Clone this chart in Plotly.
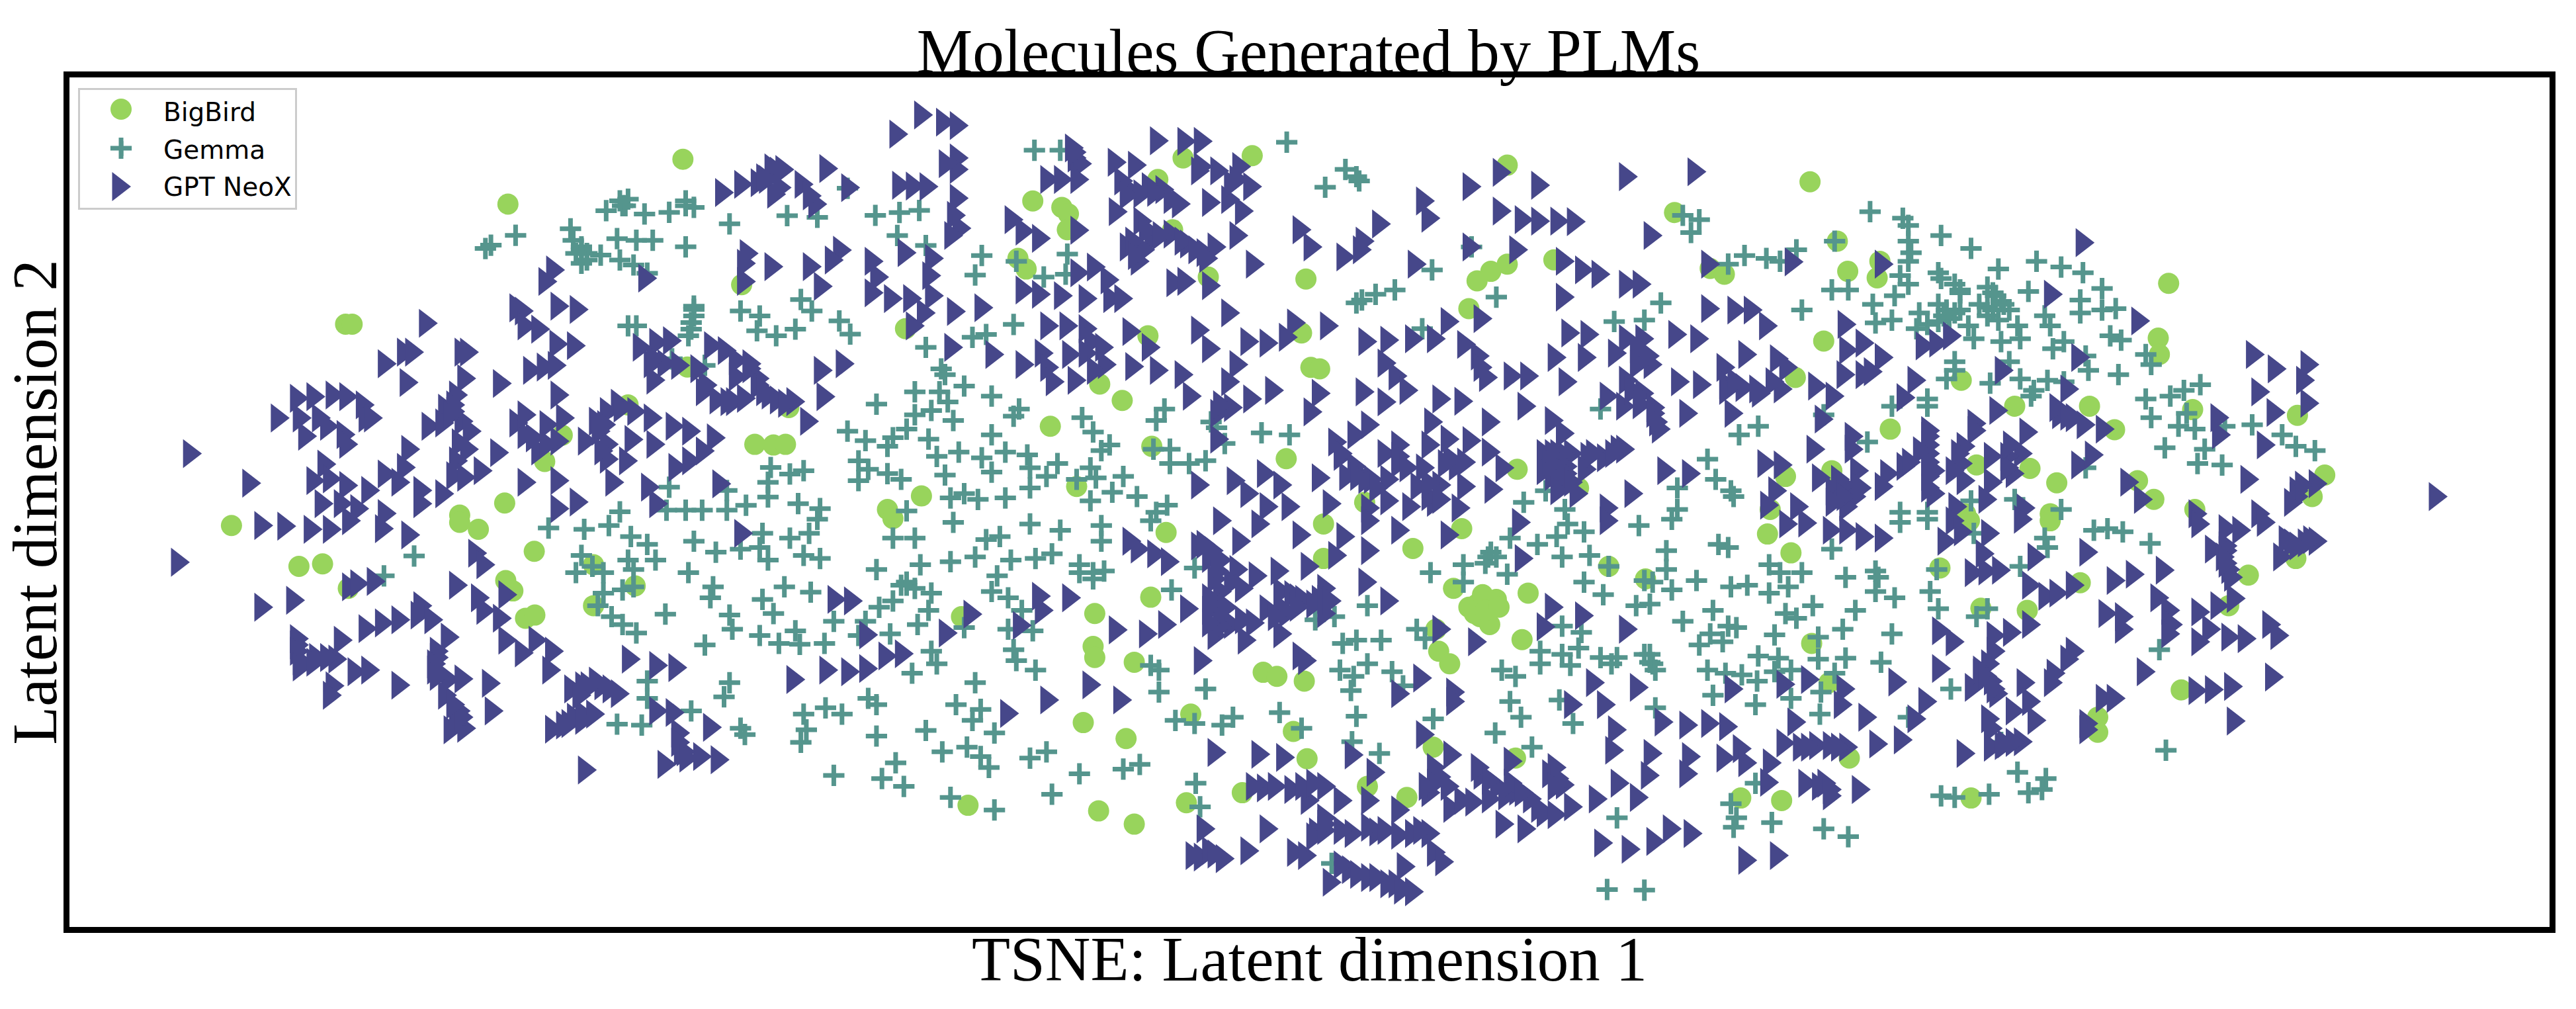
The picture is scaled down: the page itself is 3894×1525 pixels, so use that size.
import plotly.graph_objects as go

# Each panel: (left, top, x scale, y scale) of the reading grid.
panel_grid = {
    "nw": (0, 0, 1.206, 2.01),
    "n": (1300, 100, 1.206, 2.306),
    "ne": (2600, 100, 1.212, 2.306),
    "sw": (0, 780, 1.206, 2.105),
    "s": (1300, 780, 1.206, 2.105),
    "se": (2600, 780, 1.212, 2.105),
}

bigbird_nw = [(1245,484),(926,620),(630,985),(642,985),(1352,865),(1376,1350),(1410,1352),(1432,1350),(1253,1115),(1438,1238),(1025,1322),(1145,1230),(993,1402),(920,1528),(838,1565)]
gpt_nw = [(1320,585),(1355,560),(1385,555),(1410,510),(1430,515),(1415,590),(1400,545),(1465,560),(1490,620),(1510,512),(1550,570),
(1365,770),(1535,760),(1410,810),(1360,800),(1360,855),(1480,810),(1520,790),(1500,870),(1180,845),(1012,820),(998,855),
(945,935),(955,945),(960,990),(985,1000),(1020,930),(1055,940),(780,982),(1018,1045),(1050,1050),
(705,1105),(740,1070),(755,1070),(845,1070),(855,1070),(970,1125),(995,1115),(1015,1110),(745,1162),(850,1150),(915,1165),(835,1200),(815,1240),(1020,1200),
(1170,1055),(1200,1040),(1225,1035),(1190,1105),(1215,1105),(1240,1110),(1275,1120),(1195,1155),(1300,1050),(1325,1065),(1345,1095),(1370,1105),(1345,1145),(1385,1150),(1405,1200),(1500,1125),(1540,1105),(1505,1205),(1285,1190),(1310,1215),(1340,1220),(1360,1210),(1420,1215),(1450,1220),(1475,1280),
(545,1210),(575,1205),(610,1200),(635,1205),(665,1230),(510,1270),(550,1270),(585,1270),(600,1295),(630,1320),(670,1270),(680,1270),(560,1325),(635,1350),(350,1378),(458,1468),
(785,1295),(810,1285),(830,1250),(845,1280),(860,1310),(840,1345),(855,1365),(835,1400),(748,1365),(910,1375),
(945,1285),(960,1320),(1000,1290),(1030,1270),(1090,1280),(1130,1225),(1160,1250),(1190,1270),(1230,1295),(1260,1310),(1305,1330),(1095,1310),(1070,1340),(1020,1340),(985,1370),(1110,1350),(1155,1335),(1195,1350),(1110,1395),(1145,1400),(1285,1370),(1235,1420),(1260,1400),(1120,1465),
(595,1410),(575,1460),(605,1455),(635,1475),(675,1490),(705,1440),(740,1420),(730,1465),(770,1490),(810,1500),(830,1445),(850,1450),(880,1430),(960,1465),(1020,1460),(1055,1525),(1185,1480),(1200,1530),(1315,1470),(590,1530),(625,1530),(655,1545),(770,1530),(705,1560),(1020,1545),
(1370,1120),(1385,1170),(1395,1190),(1435,1225),(1290,1170),(1330,1220),(960,1260),(975,1330),(1000,1350),(1110,1250),(1135,1240),(1105,1290),(1100,1370),(830,1230),(825,1260),(1420,520),(1395,540),(1425,570),(1480,595),(1195,1090)]
gemma_nw = [(895,745),(885,755),(940,715),(1040,695),(1045,730),(1060,750),(1070,770),(1095,775),(1060,800),(1130,790),(1155,805),(1180,830),(1125,725),(1160,730),(1190,730),(1250,750),(1105,640),(1135,625),(1145,605),(1175,650),(1220,645),(1250,610),(1265,630),(1330,680),(1435,655),(1490,660),(1545,572),
(1145,990),(1160,990),(1265,930),(1265,960),(1260,1000),(1255,1020),(1350,945),(1385,960),(1380,1005),(1415,1020),(1450,1000),(1460,910),(1480,945),(1530,975),(1550,1015),
(1285,1110),(1225,1090),(1545,1310),(1405,1420),(1440,1440),(1465,1430),(1400,1465),(1400,1510),(1455,1530),(1495,1545),(1360,1535),(1325,1550),(1280,1550),(1250,1550),(1215,1550),(1130,1555),(1565,1400),(1565,1460),(1220,1480),(1325,1490),
(1060,760),(1070,790),(1050,770),(1265,940),(1260,980),(1140,625),(1130,610),(1250,625)]

bigbird_n = [(589,320),(715,312),(543,395),(315,470),(368,492),(380,515),(378,570),(288,670),(303,707),(635,735),(813,742),(1180,345),(1265,675),(1485,510),(1180,690),(1150,715),(1125,748),(1110,845),(83,915),(525,940),(805,930),(822,1050),(838,1055),(437,1108),(478,1165),(347,1255),(777,1368),(532,1325),(1198,1405),(1310,1470),(920,1520),(395,1465),(112,1498),(50,1545),(570,570),(1550,705)]
gpt_n = [(115,170),(155,195),(180,207),(70,237),(180,320),(180,360),(180,460),(175,520),(185,565),(75,415),(100,418),(125,420),(390,285),(395,320),(405,340),(345,395),(370,395),(400,395),(468,335),(505,345),(545,260),(595,262),(625,262),(620,365),(655,365),(695,350),(690,395),(715,420),(490,425),(515,445),(555,430),(570,465),(640,475),(675,465),(700,505),(470,507),(515,540),(535,605),(570,585),(600,620),(630,650),(490,630),(520,640),(510,680),(690,590),(650,630),(720,690),
(280,535),(300,575),(330,600),(400,572),(85,650),(135,670),(25,680),(35,735),(130,730),(25,790),(60,810),(95,810),(135,800),(175,855),(225,842),(120,860),(100,905),(300,780),(330,795),(370,800),(415,810),(460,810),(480,810),(430,700),(455,745),(400,720),(575,755),(595,750),(640,765),
(805,570),(825,630),(885,665),(915,640),(920,610),(950,550),(1030,470),(1040,530),(1115,420),(1170,370),(1240,415),(1400,385),(1525,368),(1170,505),(1210,535),(1240,540),(1275,540),(1305,542),(1445,590),(1115,630),(1200,640),(1015,690),(1285,680),(1320,710),(1350,725),(1400,760),(1425,760),(1285,805),(1550,690),(1550,845),
(675,860),(620,920),(495,925),(345,905),(380,905),(415,915),(425,960),(445,980),(170,980),(245,1005),(300,1040),(335,1000),(345,1050),(385,1005),(415,1000),(450,1040),(430,1060),(355,1100),(395,1095),(500,1047),(545,1060),(590,1075),(530,980),(640,985),(710,960),(745,965),(780,945),(795,895),(855,905),(690,1040),(675,1100),(605,1150),(655,1210),(680,1190),(715,1160),(755,1130),(840,1140),(825,1205),(925,960),(965,955),(1010,950),(1050,950),(1075,890),(1105,970),(1130,1010),(1135,1050),(1145,1085),(1190,1080),(1220,1080),(960,1035),(980,1080),(1000,1130),(920,1135),(960,1170),(1060,1160),(1100,1168),(1045,1240),(1150,1240),(1215,1185),(1135,880),(1270,1015),(1325,1015),(1290,1100),(1285,1280),(1265,1235),(1295,930),(1330,935),(1380,1000),(1430,950),(1490,935),(1530,950),(1430,1010),(1445,1040),(1400,1095),(1430,1140),(1495,1100),(1535,1110),(1365,1150),(1395,1185),(1450,1190),(1510,1210),(1460,1265),(1395,1335),
(930,1250),(905,1285),(870,1310),(985,1320),(1040,1320),(1075,1300),(1115,1305),(1150,1345),(880,1360),(905,1395),(985,1385),(1030,1400),(1070,1385),(1090,1395),(840,1435),(890,1430),(935,1440),(965,1440),(1020,1465),(1060,1460),(1105,1465),(1155,1475),(1175,1400),(740,1420),(770,1460),(685,1445),(620,1460),(710,1490),(745,1535),(785,1535),(860,1525),(965,1515),(1005,1535),(1050,1520),(1095,1540),(655,1300),(660,1180),
(1250,1350),(1275,1350),(1300,1350),(1330,1360),(1360,1365),(1385,1335),(1275,1400),(1325,1405),(1250,1410),(1280,1450),(1310,1490),(1410,1490),(1470,1410),(1515,1420),(1365,1540),(930,1540),
(160,340),(170,590),(395,300),(480,400),(490,450),(530,420),(540,440),(585,480),(525,570),(550,590),(590,610),(615,640),(635,670),(500,610),(505,660),(625,350),(680,410),(1265,1350),(1290,1360),(1260,1380),(1290,1395),(1265,1430),(1290,1420),(1300,1450),(1340,1350),(1375,1350),(1275,1480),(1105,1380),(1080,1370),(1040,1500),(1060,1510),(1040,1455),(960,1350),(985,1360),(1000,1400),(925,1440),(910,1430),(945,1470),(880,1350),(1400,950),(1420,985),(1420,1040),(1440,1010),(1410,1130),(1425,1180),(1450,1210),(1455,1240)]
gemma_n = [(778,265),(318,293),(365,293),(885,360),(905,385),(910,400),(848,422),(1530,535),(1515,580),(1500,520),(1115,630),(1043,710),(975,780),(940,795),(915,815),(905,825),(1160,805),(1460,825),(1430,885),(1375,890),(1025,915),(28,520),(72,510),(108,503),(68,590),(120,625),(222,660),(285,680),(378,655),(375,725),(335,735),(210,728),(280,900),(230,935),(205,945),(120,980),(148,1055),(155,1075),(190,1115),(100,1135),(145,1135),(160,1170),(240,1150),(30,1178),(130,1200),(100,1215),(170,1235),(290,1195),(280,1220),(405,1225),(555,1195),(540,1235),(640,1240),(650,1260),(665,1315),(732,1278),(783,1285),(1350,1195),(240,1285),(425,1275),(60,1295),(10,1305),(50,1325),(85,1265),(125,1300),(455,1320),(440,1340),(535,1335),(565,1335),(180,1345),(140,1360),(222,1365),(265,1345),(305,1355),(360,1385),(420,1400),(565,1385),(600,1385),(630,1375),(240,1415),(155,1425),(310,1400),(340,1430),(395,1440),(430,1435),(480,1430),(15,1405),(50,1420),(75,1440),(310,1470),(85,1550),(165,1505),(215,1510),(265,1505),(190,1490),(460,1485),(505,1500),(420,1515),(560,1530),(1210,1520),(1250,1480),(1490,1470),(1545,1370),(1560,1440),(1490,1545),(1285,1545),(540,1555)]

bigbird_ne = [(165,403),(215,610),(293,680),(234,715),(288,738),(8,725),(822,757),(190,958),(803,948),(805,1005),(138,1085),(442,1095),(540,1185),(677,1185),(866,1197),(1058,1217),(723,1267),(312,1265),(120,1430),(205,1410),(470,1390),(568,1402),(617,1452),(765,1445),(795,1510),(1108,1425),(1085,1500),(870,1545),(450,1560),(92,1545),(605,1560)]
gpt_ne = [(668,615),(135,682),(300,690),(610,795),(770,888),(30,850),(60,850),(88,905),(232,900),(265,965),(235,990),(300,1015),(375,975),(400,965),(425,940),(50,1005),(108,1020),(125,1050),(660,1015),(520,1060),(980,1005),(1020,1055),(1080,1040),(1072,1095),(990,1135),(1080,1175),(1018,1207),(915,1225),(918,1285),(1000,1320),
(230,1075),(265,1075),(280,1065),(360,1095),(178,1115),(210,1150),(340,1155),(640,1125),(10,1050),(15,1110),(45,1120),(70,1125),(115,1125),(25,1210),(190,1230),(510,1200),(470,1245),(470,1270),(385,1270),(385,1320),(565,1275),(625,1215),(650,1225),(670,1250),(705,1265),(450,1325),(555,1350),(500,1360),(175,1335),(245,1290),(245,1335),(85,1385),(115,1390),(185,1435),(255,1410),(340,1395),(385,1350),(395,1410),(445,1385),(310,1420),(300,1465),(450,1445),(395,1490),(540,1420),(500,1450),(105,1480),(90,1530),(145,1535),(210,1480),(250,1500),(235,1535),(660,1390),(685,1355),(750,1450),(775,1510),(970,1440),(1095,1455),(1050,1520),(1315,1500),(435,1535),(490,1510),(560,1540),(875,1560),(990,1560),
(385,1290),(385,1380),(385,1430),(385,1470),(530,1360),(530,1400),(535,1320),(220,1440),(230,1460),(230,1500),(210,1520),(260,1470),(15,1130),(30,1100),(75,1140),(100,1100),(620,1190),(640,1220),(1060,1480),(1060,1500),(1070,1460),(370,1340),(350,1380),(440,1350),(430,1410)]
gemma_ne = [(275,507),(335,530),(345,555),(345,610),(405,590),(460,635),(350,650),(345,680),(140,640),(210,610),(45,660),(85,670),(110,680),(15,690),(400,720),(405,740),(510,707),(580,680),(625,700),(665,720),(700,775),(565,785),(330,730),(345,760),(320,800),(440,780),(490,770),(205,780),(235,780),(150,850),(280,830),(315,885),(285,895),(415,850),(440,850),(365,860),(490,840),(515,820),(530,850),(660,815),(700,850),(660,860),(725,845),(595,870),(605,905),(510,885),(545,905),(455,905),(360,915),(380,900),(465,950),(515,960),(550,950),(630,960),(610,985),(715,940),(735,955),(780,1005),(790,1040),(670,1010),(430,1030),(430,1060),(530,1030),(675,1060),(730,1075),(550,1090),(495,1105),(415,1090),(600,1095),(630,1100),(575,1130),(570,1150),(380,1160),(315,1185),(380,1185),(880,1110),(850,1130),(825,1150),(780,1160),(790,1225),(855,1210),(870,1265),(840,1255),(925,1255),(975,1250),(1030,1285),(1090,1340),(1055,1325),(815,1330),(888,1335),(875,1385),(920,1390),(70,1255),(35,1285),(270,1310),(190,1215),(670,1400),(540,1510),(460,1515),(20,1480),(25,1500),(330,1555),(380,1555),(625,1545),
(400,830),(410,870),(430,860),(475,830),(500,850),(505,800),(520,830),(490,870),(420,880),(400,890),(440,790),(500,790),(430,760)]

bigbird_sw = [(422,30),(838,20),(872,42),(974,112),(545,160),(588,152),(635,230),(922,205),(935,238),(958,325),(975,315),(1082,155),(1158,222),(1082,285)]
gpt_sw = [(328,147),(480,30),(522,32),(570,42),(605,42),(640,15),(700,40),(748,60),(640,225),(655,215),(685,208),(480,290),(538,268),(870,118),(885,155),(835,220),(875,260),(885,300),(925,250),(915,325),(770,285),(670,358),(700,340),(730,330),(765,315),(790,330),(820,385),(925,395),(980,395),(1010,430),(955,435),(545,410),(550,460),(580,450),(625,395),(615,455),(650,495),(675,490),(610,540),(605,570),(730,538),(800,430),(795,490),(820,520),(845,518),(895,532),(815,570),(840,620),(825,680),(850,675),(900,620),(1005,490),(1045,550),(1075,540),(1100,540),(1130,565),(1065,630),(1085,630),(1040,660),(1010,678),(1200,620),(1230,625),(1150,455),(1200,475),(1235,482),(1298,672),(1240,690),(1245,750),(1215,790),(1280,765),(1312,775),(1070,808),(1355,55),(1450,520),(1510,490),(1550,495),(1525,265),(1555,270),
(545,390),(545,430),(550,480),(575,465),(600,450),(800,450),(795,470),(800,510),(1065,540),(1090,525),(1115,550),(1060,570),(1050,640),(1065,650),(1030,665),(1240,720),(1250,750),(1255,770),(835,660),(845,640),(830,600)]
gemma_sw = [(1000,38),(1065,42),(1110,30),(1150,65),(1180,90),(1195,140),(1060,125),(1050,180),(1080,160),(1100,180),(1145,140),(1155,170),(755,127),(700,190),(1100,245),(1135,235),(1155,225),(1090,285),(1115,320),(1135,345),(1160,372),(1213,312),(1255,180),(1265,80),(1305,115),(1350,105),(1385,100),(1400,140),(1390,55),(1440,70),(1475,55),(1465,125),(1495,135),(1300,225),(1295,260),(1430,225),(1478,242),(1390,265),(1410,310),(1330,315),(1520,335),(1335,360),(1385,380),(1420,405),(1450,365),(1458,408),(1503,405),(1285,410),(1565,380),(1180,525),(1330,530),(1320,575),(1180,580),(1260,620),(1125,662),(1170,665),(1350,675),(1358,695),(1465,630),(1505,610),(1535,630),(1470,680),(1460,720),(1520,825),(1490,10)]

bigbird_s = [(60,8),(558,52),(845,25),(1097,40),(1008,103),(530,258),(428,310),(425,415),(428,450),(500,465),(1082,230),(1218,245),(1125,280),(1150,270),(1130,320),(1148,345),(1207,393),(1050,360),(1055,430),(1075,470),(735,497),(760,510),(810,525),(603,630),(407,657),(485,708),(790,685),(815,772),(1045,735),(1195,770),(197,920),(595,912),(697,880),(435,938),(500,980),(925,860),(997,895),(1365,160),(1432,200),(185,320),(845,135),
(1110,290),(1135,250),(1160,265),(1120,310),(1140,300),(1165,290)]
gpt_s = [(660,15),(730,25),(805,60),(885,65),(930,15),(985,45),(1075,60),(1205,20),(1365,15),(495,80),(510,105),(540,120),(565,145),(620,95),(640,135),(655,175),(690,170),(725,190),(765,175),(820,160),(870,125),(930,110),(695,80),(925,210),(965,270),(330,255),(385,260),(335,300),(600,295),(560,345),(525,375),(470,362),(650,280),(660,320),(800,260),(840,265),(850,230),(745,295),(850,310),(680,345),(650,380),(705,395),(770,375),(1060,360),(1125,400),(1265,290),(1320,317),(1250,352),(1400,360),(1210,135),(205,312),(160,372),(295,348),(15,378),(50,445),(80,438),(15,485),(625,460),(805,445),(815,460),(345,585),(422,537),(478,585),(272,628),(985,565),(1025,515),(1085,560),(1085,590),(1340,530),(1420,545),(1300,600),(1360,600),(1030,695),(1465,655),(1510,665),(1550,660),(1380,680),(1375,745),(1445,755),(1515,765),(1440,825),(1510,820),(650,752),(730,758),(775,768),(1080,760),(900,760),(1190,780),(940,815),(1060,830),(1075,860),(1040,880),(740,865),(790,870),(850,860),(820,905),(880,905),(930,905),(850,960),(1135,825),(1165,860),(1200,875),(1225,900),(1250,945),(1300,925),(1345,900),(1385,850),(1420,895),(1270,800),(1285,855),(1080,930),(1120,910),(985,935),(1175,980),(1215,995),
(630,995),(745,995),(835,1005),(900,1010),(945,1005),(985,1015),(1040,1010),(625,1085),(665,1090),(710,1065),(795,1070),(815,1080),(1050,1070),(1065,1100),(995,1115),(860,1165),(895,1125),(930,1150),(965,1170),(1010,1195),(1355,1040),(1405,1060),(1450,1035),(1480,995),(1518,1010),
(630,90),(645,110),(660,140),(650,200),(680,210),(700,230),(660,240),(640,260),(640,300),(670,290),(700,330),(720,340),(660,350),(640,340),(770,240),(790,250),(810,265),(830,280),(770,290),(800,290),(850,265),(780,310),(760,320),(860,270),
(720,860),(760,860),(810,860),(830,850),(1100,905),(1150,900),(1180,890),(1240,930),(1270,950),(1050,800),(1050,850),(1035,860),(1130,800),(1150,840),(1190,850),(1210,880),(1260,820),(1275,835),(1270,860),(930,990),(960,1000),(1010,1010),(1025,1000),(880,1000),(850,1000),(830,1020),(850,980),(610,1080),(640,1065),(650,1075),(880,1110),(910,1140),(945,1150),(980,1170),(990,1190)]
gemma_s = [(170,20),(310,25),(365,45),(60,70),(100,70),(255,65),(230,75),(440,30),(440,80),(530,15),(110,155),(165,145),(210,130),(30,170),(350,120),(320,135),(275,140),(85,220),(100,230),(130,245),(250,190),(240,240),(270,260),(60,270),(35,290),(125,300),(295,300),(10,335),(55,375),(105,345),(190,355),(270,360),(315,365),(130,430),(140,470),(280,425),(285,460),(320,490),(95,500),(210,530),(425,180),(400,155),(445,175),(530,475),(545,490),(545,560),(568,235),(610,165),(630,550),(15,580),(30,600),(175,600),(220,615),(205,650),(245,690),(120,682),(30,700),(150,750),(195,735),(220,765),(235,800),(340,750),(310,770),(65,785),(40,835),(80,860),(400,820),(480,805),(510,790),(165,895),(245,935),(350,885),(612,850),(620,925),(575,650),(610,660),(660,665),(680,640),(765,625),(805,675),(905,637),(1045,645),(897,718),(947,755),(1158,690),(1225,735),(1100,210),(1040,180),(1100,155),(1145,130),(1180,185),(1235,90),(1185,70),(1270,65),(1320,50),(1290,25),(1420,30),(1480,10),(1280,130),(1330,125),(1470,110),(1470,170),(1525,205),(1320,210),(1355,250),(1445,210),(1480,235),(1440,280),(1415,285),(1500,335),(1555,300),(1550,375),(1280,350),(1315,370),(1530,410),(1310,420),(1240,430),(1280,440),(1240,470),(1295,475),(1350,450),(1380,450),(1430,440),(1445,470),(1170,490),(1195,510),(1545,490),(1555,570),(1185,590),(1205,640),(1450,610),(1300,660),(875,490),(925,470),(900,510),(970,495),(895,555),(880,405),(905,395),(950,395),(1015,360),(1030,390),(1275,585),(925,285),(830,330),(865,320),(1565,90),(1365,160),(1430,205),(990,540),(860,1105),(1362,1188),(1430,1190),(1380,960),
(1150,115),(1160,130),(1140,150),(1440,465),(1450,490),(1440,440),(1370,470),(85,210),(75,220),(400,180),(425,200)]

bigbird_se = [(87,57),(130,117),(457,15),(605,15),(403,165),(660,212),(968,188),(1055,135),(478,293),(563,300),(932,285),(168,405),(200,530),(845,553),(692,640),(692,688),(237,770),(38,897),(113,905),(460,897)]
gpt_se = [(125,25),(160,22),(205,45),(235,45),(265,65),(300,70),(430,15),(415,80),(445,50),(495,55),(485,120),(555,10),(675,115),(880,25),(930,40),(955,45),(1000,20),(1040,75),(1075,85),(1095,80),(1030,130),(905,105),(930,95),(935,170),(940,195),(465,180),(490,175),(515,172),(580,130),(570,220),(600,255),(620,245),(650,220),(725,205),(760,185),(815,172),(805,260),(825,300),(880,305),(915,285),(945,262),(710,310),(740,320),(740,360),(830,345),(825,375),(900,360),(880,400),(935,385),(965,390),(1010,345),(1025,380),(405,365),(430,400),(505,380),(570,345),(535,370),(505,430),(495,470),(650,430),(640,455),(615,500),(610,530),(780,495),(1015,512),(405,485),(480,500),(500,525),(465,545),(510,565),(560,530),(325,528),(120,535),(165,520),(230,550),(25,550),(225,600),(570,590),(540,620),(580,650),(495,645),(500,675),(380,590),(360,645),(270,640),(140,655),(15,670),(675,660),(675,680),(705,580),(725,580),(875,555),(905,552),(940,542),(945,652),(120,722),(150,735),(180,730),(205,730),(235,735),(290,725),(335,712),(450,755),(500,735),(525,725),(555,718),(40,740),(10,770),(50,785),(95,785),(90,847),(160,850),(195,850),(205,890),(258,870),(50,1095),(108,1080),
(930,110),(925,130),(930,150),(1050,85),(1060,95),(1085,75),(165,735),(220,735),(480,490),(490,510),(505,550),(185,860),(205,870),(520,730),(540,720)]
gemma_se = [(15,100),(90,155),(110,180),(150,180),(205,105),(230,195),(285,175),(290,195),(125,225),(90,245),(20,225),(50,220),(285,240),(320,260),(385,240),(400,295),(248,300),(170,285),(120,310),(140,325),(330,20),(380,10),(465,55),(595,70),(600,100),(685,45),(710,40),(738,50),(788,87),(397,170),(550,160),(490,295),(470,320),(15,350),(30,355),(5,400),(100,378),(180,385),(225,360),(315,375),(70,445),(107,452),(180,455),(230,452),(295,465),(10,500),(40,505),(68,525),(100,495),(130,490),(210,500),(130,580),(185,560),(65,600),(183,630),(423,550),(345,640),(805,425),(817,745),(545,815),(597,835),(590,870),(565,880),(405,890),(430,895),(493,885),(65,850),(20,915),(30,960),(25,990),(95,975),(190,995),(235,1020),(515,720)]

series_names = ["BigBird", "Gemma", "GPT NeoX"]
W, H = 3894, 1525


def collect(panels):
    xs, ys = [], []
    for key, pts in panels.items():
        left, top, sx, sy = panel_grid[key]
        for px, py in pts:
            xs.append(round(left + px / sx, 1))
            ys.append(round(H - (top + py / sy), 1))
    return xs, ys


bb_x, bb_y = collect({"nw": bigbird_nw, "n": bigbird_n, "ne": bigbird_ne, "sw": bigbird_sw, "s": bigbird_s, "se": bigbird_se})
ge_x, ge_y = collect({"nw": gemma_nw, "n": gemma_n, "ne": gemma_ne, "sw": gemma_sw, "s": gemma_s, "se": gemma_se})
gp_x, gp_y = collect({"nw": gpt_nw, "n": gpt_n, "ne": gpt_ne, "sw": gpt_sw, "s": gpt_s, "se": gpt_se})

GREEN, TEAL, INDIGO = "#98D45C", "#55958D", "#46478A"
SERIF = "Liberation Serif, Times New Roman, serif"
L, R, T, B = 105, 3854, 117, 1401
PW, PH = R - L, B - T
tri_shift = 4
TRI, CROSS, CROSS_W = 38, 23, 7


def add_series(fig, name, x, y, symbol, size, color, line, show=True):
    fig.add_trace(go.Scatter(
        x=x, y=y, mode="markers", name=name, legendgroup=name, showlegend=show,
        marker=dict(symbol=symbol, size=size, color=color, line=line),
        hoverinfo="skip",
    ))


fig = go.Figure()
add_series(fig, series_names[0], bb_x, bb_y, "circle", 32, GREEN, dict(width=0))
add_series(fig, series_names[1], ge_x, ge_y, "cross-thin", CROSS, TEAL, dict(width=CROSS_W, color=TEAL))
add_series(fig, series_names[2], [v - tri_shift for v in gp_x], gp_y, "triangle-right", TRI, INDIGO, dict(width=0))

# full-size legend keys below the capped native legend keys
key_x, key_y = 183, [H - 165, H - 224, H - 282]
add_series(fig, "key BigBird", [key_x], [key_y[0]], "circle", 32, GREEN, dict(width=0), False)
add_series(fig, "key Gemma", [key_x], [key_y[1]], "cross-thin", CROSS, TEAL, dict(width=CROSS_W, color=TEAL), False)
add_series(fig, "key GPT NeoX", [key_x - tri_shift], [key_y[2]], "triangle-right", TRI, INDIGO, dict(width=0), False)

fig.update_layout(
    width=W, height=H, autosize=False,
    margin=dict(l=L, r=W - R, t=T, b=H - B, pad=0),
    paper_bgcolor="white", plot_bgcolor="white",
    title=dict(text="Molecules Generated by PLMs", x=1978 / W, xanchor="center",
               y=1 - 110 / H, yanchor="bottom", yref="container", pad=dict(b=0),
               font=dict(family=SERIF, size=95, color="black")),
    legend=dict(x=(118 - L) / PW, xanchor="left", y=1 - (133 - T) / PH, yanchor="top",
                bgcolor="rgba(0,0,0,0)", bordercolor="#CCCCCC", borderwidth=3,
                itemwidth=116, itemsizing="trace", tracegroupgap=3,
                font=dict(family="DejaVu Sans", size=39, color="black")),
    xaxis=dict(range=[L, R], showgrid=False, zeroline=False, showticklabels=False, ticks="",
               showline=True, mirror=True, linecolor="black", linewidth=9,
               title=dict(text="TSNE: Latent dimension 1", standoff=10,
                          font=dict(family=SERIF, size=95, color="black"))),
    yaxis=dict(range=[H - B, H - T], showgrid=False, zeroline=False, showticklabels=False, ticks="",
               showline=True, mirror=True, linecolor="black", linewidth=9,
               title=dict(text="Latent dimension 2", standoff=10,
                          font=dict(family=SERIF, size=95, color="black"))),
)
fig.write_html("out.html", config={"displayModeBar": False},
               post_script="document.body.style.margin='0';")
